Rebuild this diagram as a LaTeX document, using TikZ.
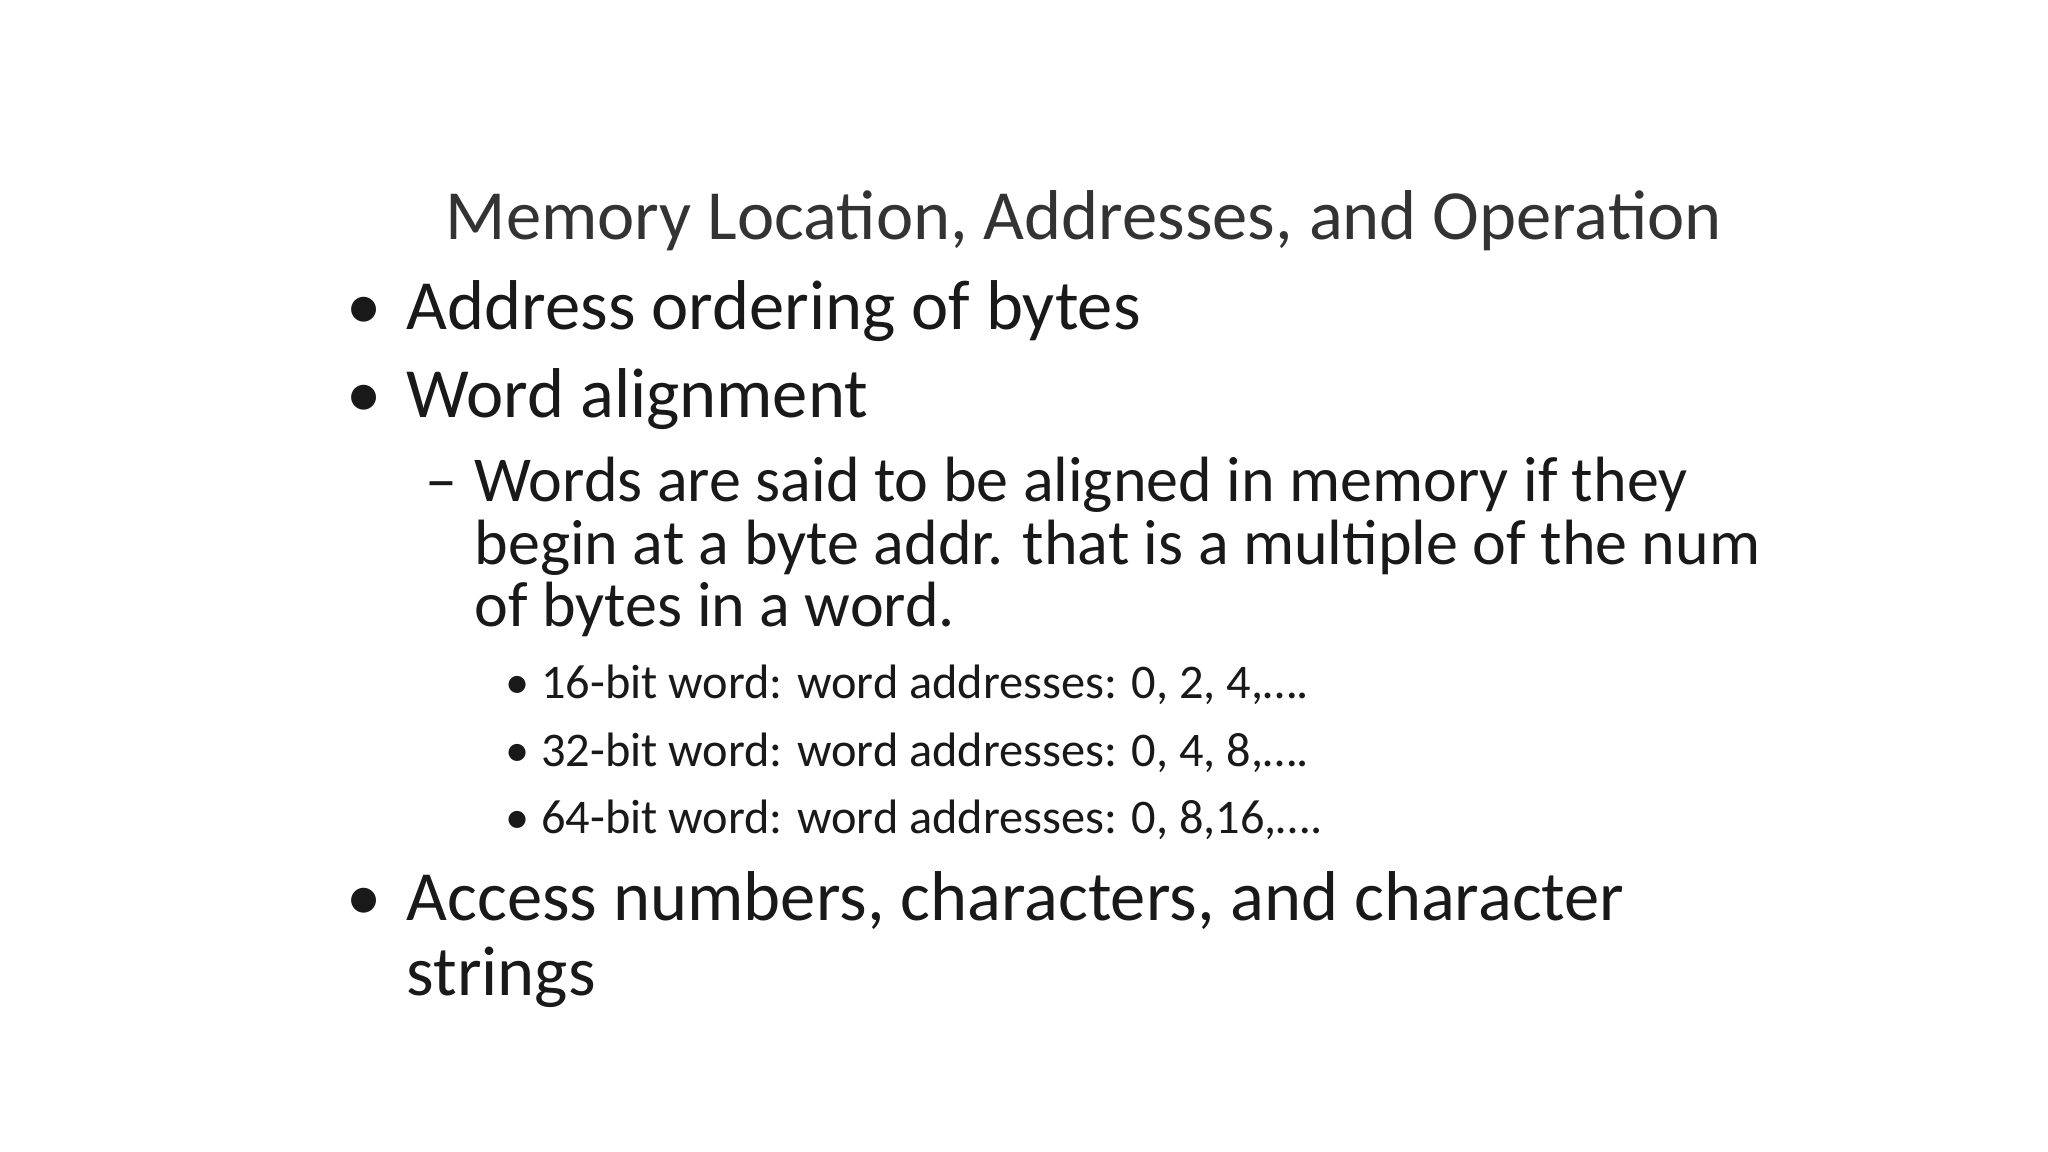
\documentclass[tikz,border=0pt]{standalone}
\usepackage{fontspec}
\setmainfont{Carlito}
\begin{document}
\begin{tikzpicture}[x=0.5pt,y=-0.5pt,
  t/.style={anchor=base west,inner sep=0pt,text=black!90},
  l1/.style={t,font=\fontsize{27}{32}\selectfont},
  l2/.style={t,font=\fontsize{24.5}{29}\selectfont},
  l3/.style={t,font=\fontsize{18.5}{22}\selectfont}]
\useasboundingbox[fill=white] (0,0) rectangle (1568,882);
\node[t,font=\fontsize{27}{32}\selectfont,text=black!80] (title) at (341,183) {Memory Location, Addresses, and Operation};
\node[l1] (b1d) at (265,252) {•};
\node[l1] (b1) at (311,252) {Address ordering of bytes};
\node[l1] (b2d) at (265,320) {•};
\node[l1] (b2) at (311,320) {Word alignment};
\node[l2] (s1d) at (325,384) {–};
\node[l2] (s1a) at (363,384) {Words are said to be aligned in memory if they};
\node[l2] (s1b) at (363,432) {begin at a byte addr. that is a multiple of the num};
\node[l2] (s1c) at (363,480) {of bytes in a word.};
\node[l3] (c1d) at (387,535) {•};
\node[l3] (c1) at (414,535) {16-bit word: word addresses: 0, 2, 4,\dots.};
\node[l3] (c2d) at (387,587) {•};
\node[l3] (c2) at (414,587) {32-bit word: word addresses: 0, 4, 8,\dots.};
\node[l3] (c3d) at (387,638) {•};
\node[l3] (c3) at (414,638) {64-bit word: word addresses: 0, 8,16,\dots.};
\node[l1] (b3d) at (265,705) {•};
\node[l1] (b3a) at (311,705) {Access numbers, characters, and character};
\node[l1] (b3b) at (311,762) {strings};
\end{tikzpicture}
\end{document}
